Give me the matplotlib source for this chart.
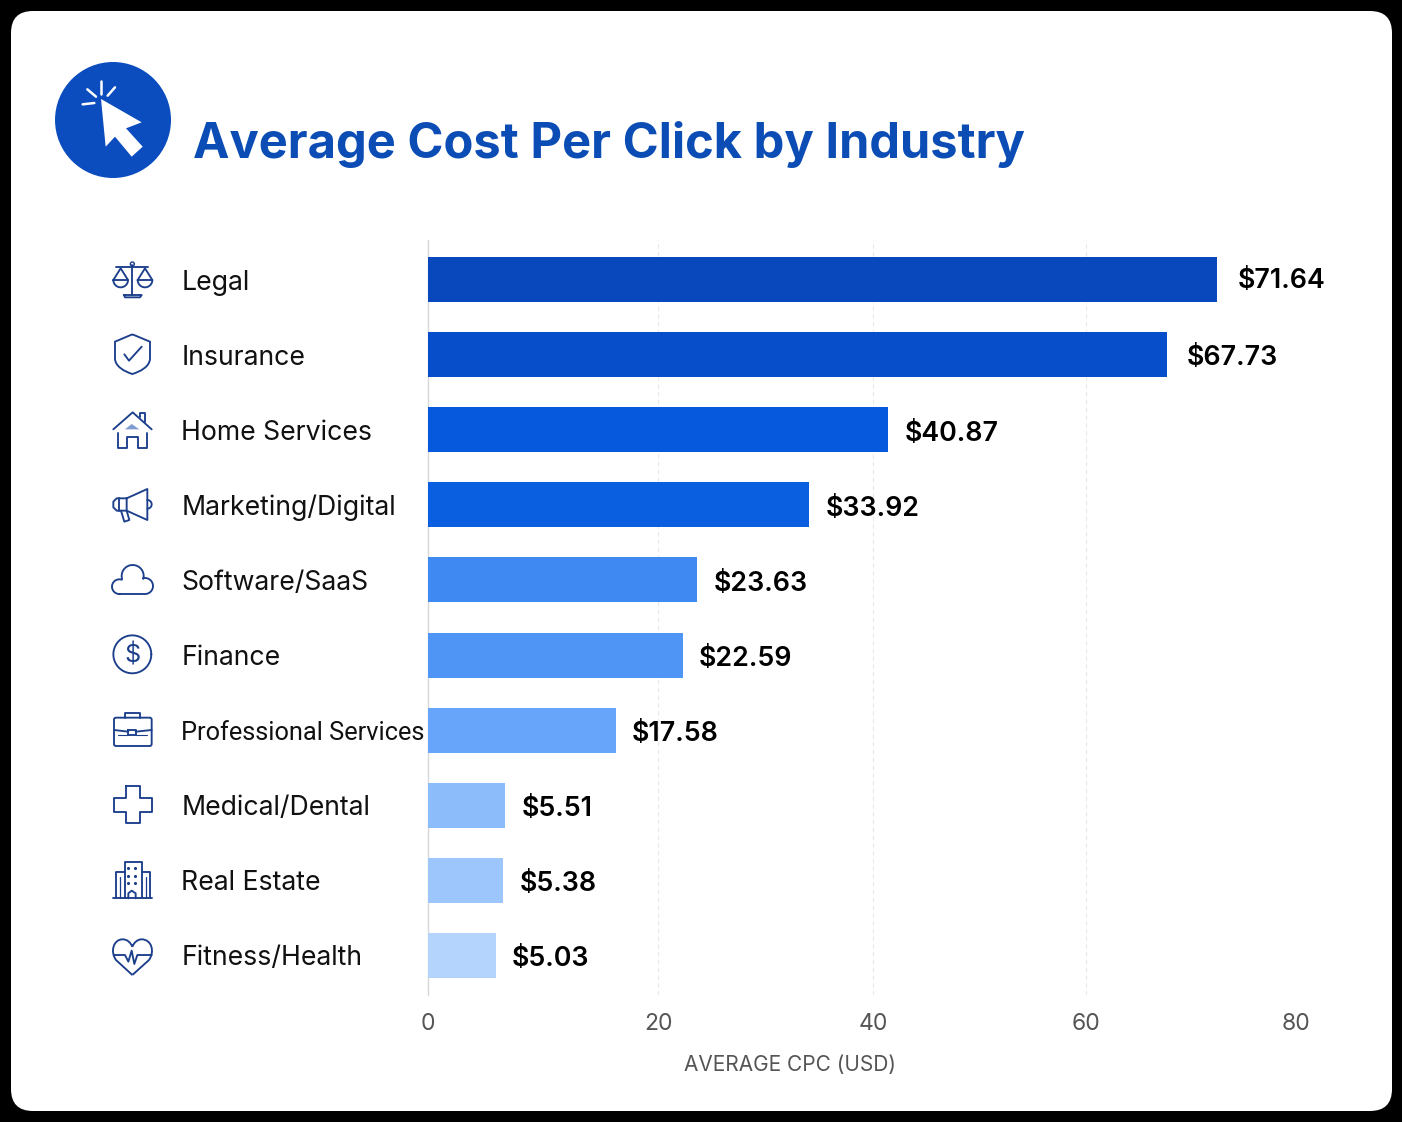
import numpy as np
import matplotlib
matplotlib.use("Agg")
import matplotlib.pyplot as plt
from matplotlib.patches import FancyBboxPatch, Circle, Polygon, PathPatch
from matplotlib.path import Path

# ---- data ----
categories = ["Legal", "Insurance", "Home Services", "Marketing/Digital", "Software/SaaS",
              "Finance", "Professional Services", "Medical/Dental", "Real Estate", "Fitness/Health"]
cpc_values = [71.64, 67.73, 40.87, 33.92, 23.63, 22.59, 17.58, 5.51, 5.38, 5.03]
value_labels = ["$71.64", "$67.73", "$40.87", "$33.92", "$23.63",
                "$22.59", "$17.58", "$5.51", "$5.38", "$5.03"]
bar_colors = ["#0847BC", "#074ECB", "#0658DC", "#0A5FE0", "#3F8AF2",
              "#4E95F6", "#66A5F9", "#8DBCFB", "#9DC6FC", "#B4D3FD"]
x_ticks = [0, 20, 40, 60, 80]
x_label = "AVERAGE CPC (USD)"
title = "Average Cost Per Click by Industry"

# The reference's axis is not evenly spaced: value -> pixel knots
scale_values = [0, 5.03, 5.38, 5.51, 17.58, 20, 22.59, 23.63, 33.92, 40, 40.87, 60, 67.73, 71.64, 80]
scale_pixels = [428, 496, 503.5, 505, 616, 658, 683, 697, 809, 873, 888, 1086, 1167, 1217, 1296]
label_gaps = [21, 20, 17, 17, 17, 16, 16, 17, 16, 16]
label_dy = [1.5, 3, 4, 4.5, 4, 3.5, 3.5, 3.5, 3.5, 3.5]

W, H = 1402, 1122
FONT = "Inter"
INK = "#1C3F8C"
BLUE = "#0B4DBE"

plt.rcParams["font.family"] = [FONT, "DejaVu Sans"]
fig = plt.figure(figsize=(W / 100, H / 100), dpi=100, facecolor="black")

# background card in pixel space
bg = fig.add_axes([0, 0, 1, 1], zorder=0)
bg.set_xlim(0, W); bg.set_ylim(H, 0); bg.axis("off")
bg.add_patch(FancyBboxPatch((33, 33), 1337, 1056, boxstyle="round,pad=22,rounding_size=22", fc="white", ec="none"))

# chart
ax = fig.add_axes([428 / W, 1 - 995 / H, (1296 - 428) / W, (995 - 240) / H], zorder=1)
ax.patch.set_alpha(0)
ax.set_xscale("function", functions=(lambda v: np.interp(v, scale_values, scale_pixels),
                                     lambda p: np.interp(p, scale_pixels, scale_values)))
ypos = np.arange(len(categories))
ax.barh(ypos, cpc_values, height=0.6, color=bar_colors, zorder=3)
ax.set_xlim(0, 80)
ax.set_ylim(9.526, -0.526)
ax.set_xticks(x_ticks)
ax.set_xticklabels([str(t) for t in x_ticks])
ax.minorticks_off()
ax.set_yticks(ypos)
ax.set_yticklabels(categories)
ax.tick_params(axis="y", length=0, pad=177.5, labelsize=19.2, labelcolor="#111111")
for lab in ax.get_yticklabels():
    lab.set_ha("left")
    if lab.get_text() == "Professional Services":
        lab.set_family(["Roboto", "DejaVu Sans"])
        lab.set_fontsize(18.3)
ax.tick_params(axis="x", length=0, pad=13, labelsize=16.5, labelcolor="#555555")
for s in ["top", "right", "bottom"]:
    ax.spines[s].set_visible(False)
ax.spines["left"].set_color("#D5D7DA")
ax.spines["left"].set_linewidth(1)
ax.grid(axis="x", color="#E9E9E9", linestyle=(0, (4, 3)), linewidth=0.8, zorder=0)
ax.set_axisbelow(True)
for y, v, t, g, d in zip(ypos, cpc_values, value_labels, label_gaps, label_dy):
    ax.annotate(t, (v, y), xytext=(g * 0.72, -d * 0.72), textcoords="offset points", va="center", ha="left",
                fontsize=19.3, fontweight=600, color="black", annotation_clip=False, zorder=4)
fig.text(790 / W, 1 - 1065.5 / H, x_label, ha="center", va="center", fontsize=15, color="#555555")

# overlay: header and icons in pixel space
ov = fig.add_axes([0, 0, 1, 1], zorder=2)
ov.set_xlim(0, W); ov.set_ylim(H, 0); ov.axis("off"); ov.patch.set_alpha(0)
ov.text(193, 144.5, title, fontsize=35.2, fontweight=700, color="#0B4DB5", va="center", ha="left")
ov.add_patch(Circle((113, 120), 58, fc=BLUE, ec="none"))
arrow = [(303, 297), (425, 367), (378, 385), (428, 440), (395, 470), (345, 410), (317, 440)]
ov.add_patch(Polygon([(x / 3, y / 3) for x, y in arrow], closed=True, fc="white", ec="none"))
for seg in [[(302, 243), (302, 283)], [(262, 268), (288, 290)], [(345, 262), (323, 287)], [(248, 313), (283, 309)]]:
    ov.plot([p[0] / 3 for p in seg], [p[1] / 3 for p in seg], color="white", lw=1.8, solid_capstyle="round")

LW = 1.35
def zp(pts, o):
    return [(o[0] + x / 3, o[1] + y / 3) for x, y in pts]
def line(pts, o, closed=False, lw=LW, color=INK):
    p = zp(pts, o)
    if closed:
        p = p + [p[0]]
    ov.plot([a[0] for a in p], [a[1] for a in p], color=color, lw=lw, solid_joinstyle="round", solid_capstyle="round")
def curve(verts, codes, o, lw=LW):
    ov.add_patch(PathPatch(Path(zp(verts, o), codes), fc="none", ec=INK, lw=lw))
def arc(cx, cy, r, a0, a1):
    a = np.radians(np.linspace(a0, a1, 40))
    return [(cx + r * np.cos(t), cy + r * np.sin(t)) for t in a]

Z0, Z1, Z2 = (0, 0), (90, 320), (90, 680)
M, C, L = Path.MOVETO, Path.CURVE4, Path.LINETO

# scales (Legal)
line([(397, 795), (397, 885)], Z0)
line([(347, 802), (443, 802)], Z0)
line(arc(397, 792, 6, 0, 360), Z0, lw=1)
line([(372, 885), (425, 885), (420, 892), (375, 892)], Z0, closed=True)
for cx in (362, 435):
    line([(cx - 22, 840), (cx, 805), (cx + 22, 840)], Z0)
    line([(cx - 22, 840), (cx + 22, 840)] + arc(cx, 840, 22, 0, 180), Z0)

# shield
curve([(127, 43), (75, 65), (75, 115), (75, 140), (105, 155), (127, 162), (150, 155), (180, 140), (180, 115),
       (180, 65), (127, 43)],
      [M, L, L, C, C, C, C, C, C, L, L], Z1)
line([(103, 103), (117, 122), (155, 80)], Z1)

# house
line([(70, 328), (128, 277), (185, 328)], Z1)
line([(150, 290), (150, 280), (165, 280), (165, 305)], Z1)
line([(85, 340), (85, 385), (112, 385), (112, 350), (143, 350), (143, 385), (172, 385), (172, 340)], Z1)
ov.add_patch(Polygon(zp([(105, 328), (125, 312), (148, 328)], Z1), closed=True, fc="#7F9BD0", ec="none"))

# megaphone
line([(110, 535), (172, 507), (172, 600), (110, 572)], Z1, closed=True)
line([(110, 535), (80, 535), (70, 545), (70, 562), (80, 572), (110, 572)], Z1)
line([(88, 535), (88, 572)], Z1)
line([(93, 572), (103, 605), (118, 600), (110, 572)], Z1)
line(arc(172, 553, 13, -90, 90), Z1)

# cloud
line(arc(88, 800, 22, 90, 289) + arc(128, 768, 33, 165, 375) + arc(165, 798, 24, 258, 450) + [(88, 822)], Z1)

# dollar
line(arc(127, 1003, 57, 0, 360), Z1)
ov.text(90 + 127 / 3, 320 + 1005 / 3, "$", fontsize=18, color=INK, ha="center", va="center")

# briefcase
ov.add_patch(FancyBboxPatch((90 + 75 / 3, 680 + 116 / 3), 107 / 3, 79 / 3, boxstyle="round,pad=1,rounding_size=2",
                            fc="none", ec=INK, lw=LW))
line([(105, 113), (105, 98), (150, 98), (150, 113)], Z2)
line([(72, 150), (115, 155)], Z2); line([(137, 155), (185, 150)], Z2)
line([(115, 150), (137, 150), (137, 165), (115, 165)], Z2, closed=True)
line([(85, 166), (115, 166)], Z2, lw=0.8); line([(137, 166), (170, 166)], Z2, lw=0.8)

# cross
line([(107, 318), (150, 318), (150, 355), (185, 355), (185, 397), (150, 397), (150, 430), (107, 430),
      (107, 397), (72, 397), (72, 355), (107, 355)], Z2, closed=True)

# building
line([(105, 655), (105, 545), (155, 545), (155, 655)], Z2)
line([(105, 575), (78, 575), (78, 655)], Z2)
line([(155, 575), (180, 575), (180, 655)], Z2)
line([(70, 655), (185, 655)], Z2)
line([(115, 655), (115, 640), (125, 632), (137, 640), (137, 655)], Z2)
line([(91, 592), (91, 655)], Z2, lw=0.9); line([(168, 592), (168, 655)], Z2, lw=0.9)
dots = zp([(x, y) for y in (563, 587, 608) for x in (115, 135)], Z2)
ov.scatter([d[0] for d in dots], [d[1] for d in dots], s=5, color=INK, linewidths=0)

# heart
curve([(127, 885), (78, 840), (60, 815), (70, 778), (98, 778), (112, 778), (122, 788), (127, 800),
       (132, 788), (142, 778), (155, 778), (185, 778), (195, 815), (177, 840), (127, 885)],
      [M, L, C, C, C, C, C, C, C, C, C, C, C, C, L], Z2)
line([(72, 825), (105, 825), (115, 845), (125, 812), (133, 852), (142, 825), (185, 825)], Z2)

fig.savefig("out.png", dpi=100, facecolor="black")
